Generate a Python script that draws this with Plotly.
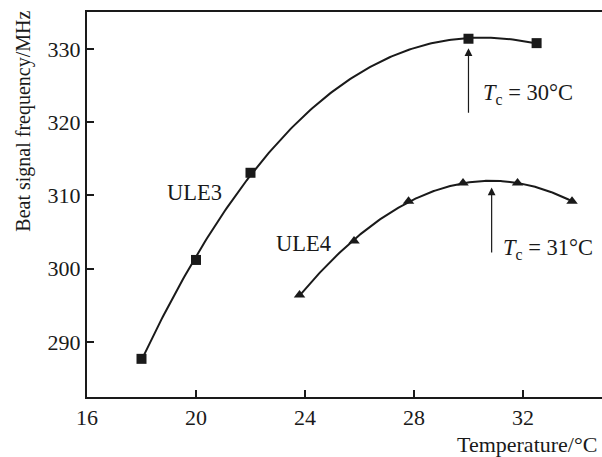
import numpy as np
import plotly.graph_objects as go

# Data
ule3_temp = [18.0, 20.0, 22.0, 30.0, 32.5]
ule3_freq = [287.7, 301.2, 313.1, 331.4, 330.8]
ule4_temp = [23.8, 25.8, 27.8, 29.8, 31.8, 33.8]
ule4_freq = [296.4, 303.8, 309.2, 311.7, 311.7, 309.2]
x_ticks = [16, 20, 24, 28, 32]
y_ticks = [290, 300, 310, 320, 330]

FONT = "Liberation Serif"
INK = "#1a1a1a"

def fit_curve(xs, ys, deg):
    c = np.polyfit(xs, ys, deg)
    xx = np.linspace(min(xs), max(xs), 200)
    return xx, np.polyval(c, xx)

fig = go.Figure()

cx3, cy3 = fit_curve(ule3_temp, ule3_freq, 3)
cx4, cy4 = fit_curve(ule4_temp, ule4_freq, 2)

fig.add_trace(go.Scatter(x=cx3, y=cy3, mode="lines",
                         line=dict(color=INK, width=2), showlegend=False, hoverinfo="skip"))
fig.add_trace(go.Scatter(x=cx4, y=cy4, mode="lines",
                         line=dict(color=INK, width=2), showlegend=False, hoverinfo="skip"))
fig.add_trace(go.Scatter(x=ule3_temp, y=ule3_freq, mode="markers", name="ULE3",
                         marker=dict(symbol="square", size=10, color=INK), showlegend=False))
fig.add_trace(go.Scatter(x=ule4_temp, y=ule4_freq, mode="markers", name="ULE4",
                         marker=dict(symbol="triangle-up", size=10, color=INK), showlegend=False))

tickfont = dict(family=FONT, size=22, color=INK)
tfont = dict(family=FONT, size=22.5, color=INK)

annotations = [
    dict(x=19.95, y=310.4, xref="x", yref="y", text="ULE3", showarrow=False, font=tfont),
    dict(x=23.93, y=303.4, xref="x", yref="y", text="ULE4", showarrow=False, font=tfont),
    dict(x=30.45, y=323.9, xref="x", yref="y", text="<i>T</i><sub>c</sub> = 30°C",
         showarrow=False, xanchor="left", font=tfont),
    dict(x=31.2, y=302.7, xref="x", yref="y", text="<i>T</i><sub>c</sub> = 31°C",
         showarrow=False, xanchor="left", font=tfont),
    # arrows
    dict(x=30.0, y=330.1, ax=30.0, ay=321.1, xref="x", yref="y", axref="x", ayref="y",
         text="", showarrow=True, arrowhead=2, arrowsize=1.3, arrowwidth=1.2, arrowcolor=INK),
    dict(x=30.85, y=311.1, ax=30.85, ay=302.0, xref="x", yref="y", axref="x", ayref="y",
         text="", showarrow=True, arrowhead=2, arrowsize=1.3, arrowwidth=1.2, arrowcolor=INK),
    # axis titles
    dict(x=0.995, y=-0.123, xref="paper", yref="paper", text="Temperature/°C", showarrow=False,
         xanchor="right", yanchor="middle", font=dict(family=FONT, size=22, color=INK)),
    dict(x=-0.124, y=0.7156, xref="paper", yref="paper", text="Beat signal frequency/MHz",
         showarrow=False, textangle=-90, xanchor="center", yanchor="middle",
         font=dict(family=FONT, size=20, color=INK)),
]

fig.update_layout(
    width=602, height=457,
    margin=dict(l=87, r=0, t=12, b=60),
    paper_bgcolor="white", plot_bgcolor="white",
    annotations=annotations,
    font=dict(family=FONT, size=22, color=INK),
)
fig.update_xaxes(range=[16, 34.9], tickvals=x_ticks, ticks="inside", ticklen=7, tickwidth=1.5,
                 tickcolor=INK, showline=True, linecolor=INK, linewidth=2, mirror=True,
                 showgrid=False, zeroline=False, tickfont=tickfont)
fig.update_yaxes(range=[282.49, 335.05], tickvals=y_ticks, ticks="inside", ticklen=7, tickwidth=1.5,
                 tickcolor=INK, showline=True, linecolor=INK, linewidth=2,
                 showgrid=False, zeroline=False, tickfont=tickfont)

fig.write_html("out.html")
